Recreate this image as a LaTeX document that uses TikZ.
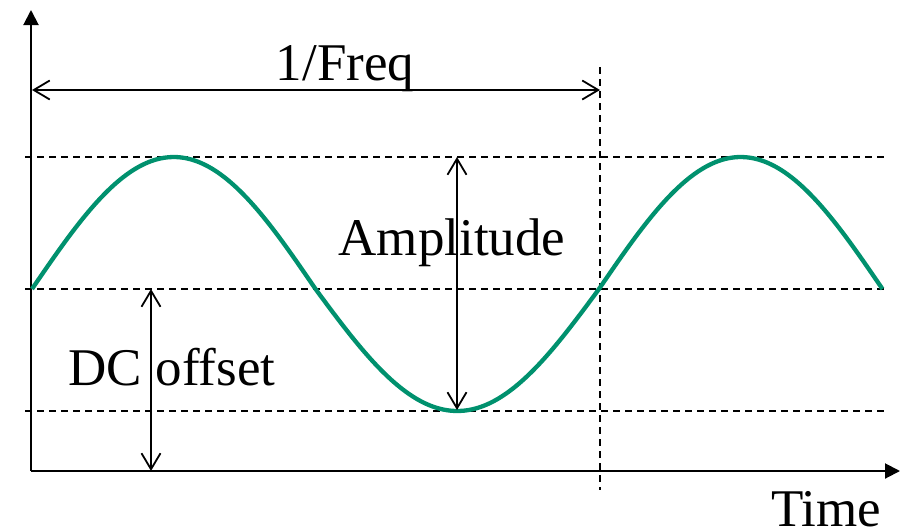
\documentclass[tikz,border=0pt]{standalone}
\usepackage{fontspec}
\setmainfont{Liberation Serif}
\usetikzlibrary{arrows.meta}
\definecolor{wavegreen}{RGB}{0,145,110}
\tikzset{
  axisline/.style={line width=2pt, -{Triangle[length=15pt,width=15pt]}},
  guide/.style={line width=1.3pt, dash pattern=on 7pt off 5pt},
  dimline/.style={line width=1.6pt, {Straight Barb[length=16pt,width=19pt,line width=1.8pt]}-{Straight Barb[length=16pt,width=19pt,line width=1.8pt]}},
  lbl/.style={font=\fontsize{53}{60}\selectfont, anchor=base, inner sep=0pt},
  wave/.style={line width=4.3pt, color=wavegreen, line join=round}
}
\begin{document}
\begin{tikzpicture}[x=1pt,y=-1pt]
\useasboundingbox (0,0) rectangle (900,531);
% coordinates
\coordinate (O) at (31,471);
\coordinate (ytop) at (31,10);
\coordinate (xend) at (900,471);
\coordinate (pl) at (25,157);
\coordinate (pr) at (885,157);
\coordinate (ml) at (25,289);
\coordinate (mr) at (885,289);
\coordinate (tl) at (25,411);
\coordinate (tr) at (885,411);
\coordinate (vt) at (600,67);
\coordinate (vb) at (600,490);
\coordinate (fl) at (32,90);
\coordinate (fr) at (600,90);
\coordinate (at) at (457,157);
\coordinate (ab) at (457,410);
\coordinate (dt) at (151,289);
\coordinate (db) at (151,471);
% guides
\draw[guide] (pl) -- (pr);
\draw[guide] (ml) -- (mr);
\draw[guide] (tl) -- (tr);
\draw[guide] (vt) -- (vb);
% axes
\draw[axisline] (O) -- (ytop);
\draw[axisline] (O) -- (xend);
% wave
\draw[wave] plot[domain=0:540, samples=200, smooth] ({32+\x/360*567}, {289 - sin(\x)*ifthenelse(sin(\x)>0,132,122)});
% dimension arrows
\draw[dimline] (fl) -- (fr);
\draw[dimline] (at) -- (ab);
\draw[dimline] (dt) -- (db);
% labels
\node[lbl] (freq) at (345,80) {1/Freq};
\node[lbl] (amp) at (452,255) {Amplitude};
\node[lbl] (dc) at (172,385) {DC offset};
\node[lbl] (time) at (826,526) {Time};
\end{tikzpicture}
\end{document}
